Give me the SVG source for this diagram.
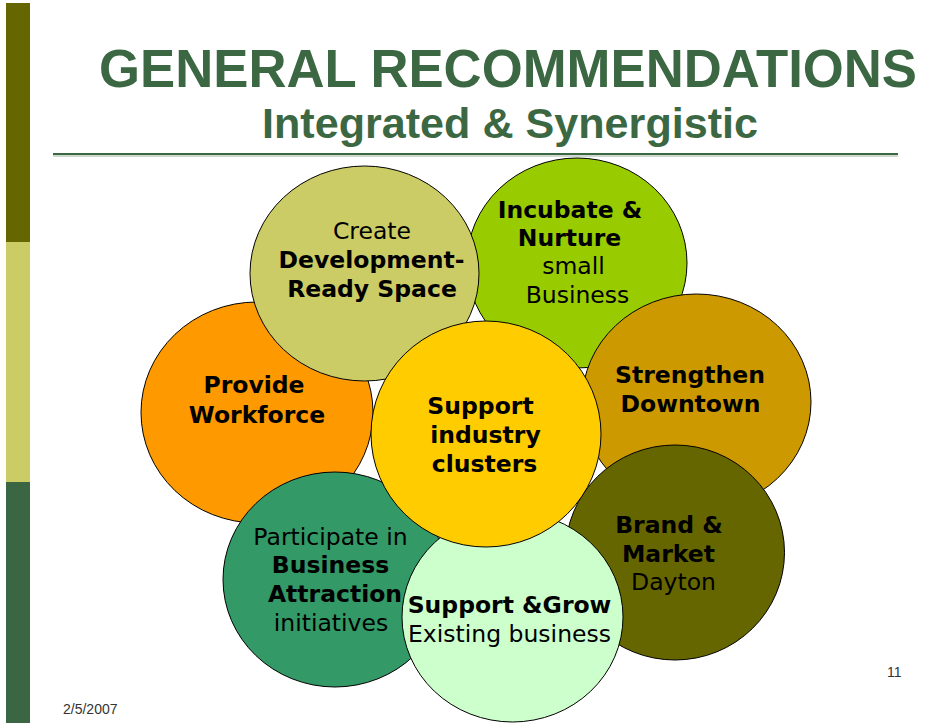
<svg xmlns="http://www.w3.org/2000/svg" width="928" height="723" viewBox="0 0 928 723">
<style>
.c{stroke:#000;stroke-width:1}
.t{font-family:"DejaVu Sans",Verdana,sans-serif;font-size:23.5px;fill:#000;text-anchor:middle}
.b{font-weight:bold}
.ttl{font-family:"Liberation Sans",Arial,sans-serif;font-weight:bold;fill:#3B6843;text-anchor:middle}
.ft{font-family:"Liberation Sans",Arial,sans-serif;font-size:14px;fill:#333}
</style>
<rect width="928" height="723" fill="#fff"/>
<g id="sidebar">
<rect x="6" y="3" width="24" height="239" fill="#666600"/>
<rect x="6" y="242" width="24" height="240" fill="#CCCC66"/>
<rect x="6" y="482" width="24" height="241" fill="#3A6644"/>
</g>
<g id="title">
<text class="ttl" x="508" y="87" font-size="53" textLength="818" lengthAdjust="spacingAndGlyphs">GENERAL RECOMMENDATIONS</text>
<text class="ttl" x="510" y="138" font-size="42" textLength="496" lengthAdjust="spacingAndGlyphs">Integrated &amp; Synergistic</text>
<line x1="53" y1="154" x2="898" y2="154" stroke="#3B6843" stroke-width="2"/>
<line x1="53" y1="156" x2="898" y2="156" stroke="#9DB5A0" stroke-width="1"/>
</g>
<g id="provide">
<ellipse class="c" cx="257" cy="412.5" rx="116" ry="110.5" fill="#FF9900"/>
<text class="t b" x="254" y="393">Provide</text>
<text class="t b" x="257" y="423">Workforce</text>
</g>
<g id="incubate">
<ellipse class="c" cx="577" cy="263" rx="110" ry="105" fill="#99CC00"/>
<text class="t b" x="570" y="218">Incubate &amp;</text>
<text class="t b" x="569.5" y="246">Nurture</text>
<text class="t" x="573.5" y="274">small</text>
<text class="t" x="577.5" y="303">Business</text>
</g>
<g id="create">
<ellipse class="c" cx="364.5" cy="273.5" rx="114.5" ry="107.5" fill="#CCCC66"/>
<text class="t" x="372" y="239">Create</text>
<text class="t b" x="371.5" y="268">Development-</text>
<text class="t b" x="372" y="297">Ready Space</text>
</g>
<g id="strengthen">
<ellipse class="c" cx="696.5" cy="402" rx="114.5" ry="108" fill="#CC9900"/>
<text class="t b" x="690" y="383">Strengthen</text>
<text class="t b" x="690.5" y="412">Downtown</text>
</g>
<g id="brand">
<ellipse class="c" cx="675" cy="552.5" rx="109.5" ry="107.5" fill="#666600"/>
<text class="t b" x="669" y="533">Brand &amp;</text>
<text class="t b" x="668.5" y="562">Market</text>
<text class="t" x="673.5" y="590">Dayton</text>
</g>
<g id="participate">
<ellipse class="c" cx="335" cy="579.5" rx="112" ry="107.5" fill="#339966"/>
<text class="t" x="330.5" y="545">Participate in</text>
<text class="t b" x="330.5" y="573">Business</text>
<text class="t b" x="335" y="602">Attraction</text>
<text class="t" x="331" y="631">initiatives</text>
</g>
<g id="grow">
<ellipse class="c" cx="512.5" cy="617" rx="110.5" ry="105" fill="#CCFFCC"/>
<text class="t b" x="509.5" y="613">Support &amp;Grow</text>
<text class="t" x="509.5" y="642">Existing business</text>
</g>
<g id="clusters">
<ellipse class="c" cx="486" cy="434" rx="115" ry="113" fill="#FFCC00"/>
<text class="t b" x="480.5" y="414">Support</text>
<text class="t b" x="485.5" y="443">industry</text>
<text class="t b" x="484.5" y="472">clusters</text>
</g>
<g id="connectors"></g>
<g id="footer">
<text class="ft" x="63" y="714">2/5/2007</text>
<text class="ft" x="887" y="677">11</text>
</g>
</svg>
